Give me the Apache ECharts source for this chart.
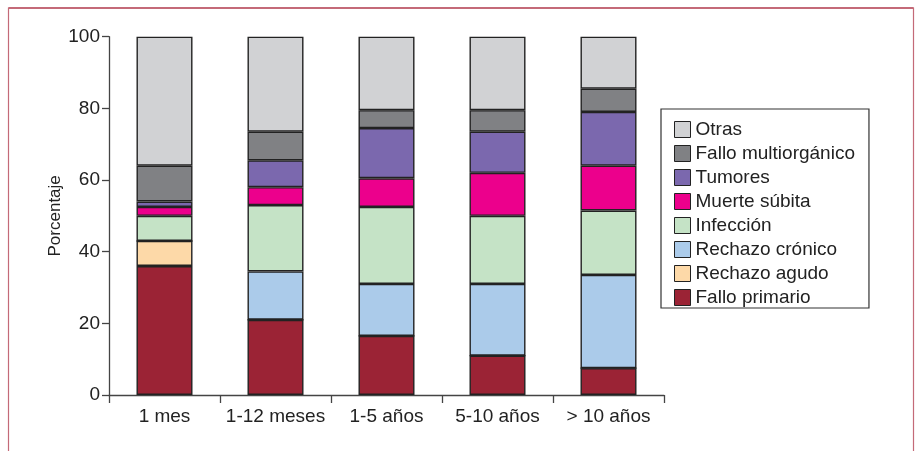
<!DOCTYPE html>
<html>
<head>
<meta charset="utf-8">
<script src="https://cdn.jsdelivr.net/npm/echarts@6/dist/echarts.min.js"></script>
<style>
  html, body { margin: 0; padding: 0; background: #ffffff; }
  #chart { width: 915px; height: 451px; }
</style>
</head>
<body>
<div id="chart"></div>
<script>
// Period after transplant
const categories = ['1 mes', '1-12 meses', '1-5 años', '5-10 años', '> 10 años'];

// Causes of death (% of deaths in each period), stacked bottom to top
const falloPrimario   = [36, 21, 16.5, 11, 7.5];
const rechazoAgudo    = [7, 0, 0, 0, 0];
const rechazoCronico  = [0, 13.5, 14.5, 20, 26];
const infeccion       = [7, 18.5, 21.5, 19, 18];
const muerteSubita    = [2.5, 5, 8, 12, 12.5];
const tumores         = [1.5, 7.5, 14, 11.5, 15];
const falloMulti      = [10, 8, 5, 6, 6.5];
const otras           = [36, 26.5, 20.5, 20.5, 14.5];

const yTicks = [0, 20, 40, 60, 80, 100];

const seriesDefs = [
  { name: 'Fallo primario',      data: falloPrimario,  color: '#9b2335' },
  { name: 'Rechazo agudo',       data: rechazoAgudo,   color: '#fdd9a8' },
  { name: 'Rechazo crónico',     data: rechazoCronico, color: '#abcbea' },
  { name: 'Infección',           data: infeccion,      color: '#c5e3c6' },
  { name: 'Muerte súbita',       data: muerteSubita,   color: '#ec008c' },
  { name: 'Tumores',             data: tumores,        color: '#7b68ae' },
  { name: 'Fallo multiorgánico', data: falloMulti,     color: '#808184' },
  { name: 'Otras',               data: otras,          color: '#d1d2d4' }
];

const labelFont = '"Liberation Sans", Arial, sans-serif';

const chart = echarts.init(document.getElementById('chart'), null, { renderer: 'canvas' });

chart.setOption({
  animation: false,
  backgroundColor: '#ffffff',
  graphic: [
    {
      type: 'rect',
      shape: { x: 8.5, y: 8, width: 905, height: 460 },
      style: { fill: 'none', stroke: '#c46a78', lineWidth: 1.2 },
      silent: true
    },
    {
      type: 'line',
      shape: { x1: 8.5, y1: 8, x2: 913.5, y2: 8 },
      style: { stroke: '#c46a78', lineWidth: 2 },
      silent: true
    }
  ],
  grid: { left: 109, right: 251, top: 36.7, bottom: 56, containLabel: false },
  legend: {
    orient: 'vertical',
    left: 661,
    top: 109,
    data: seriesDefs.map(s => s.name).reverse(),
    itemWidth: 16,
    itemHeight: 16,
    itemGap: 5,
    icon: 'rect',
    padding: [11, 14, 1, 13],
    borderColor: '#333333',
    borderWidth: 1.2,
    backgroundColor: '#ffffff',
    selectedMode: false,
    itemStyle: { borderColor: '#222222', borderWidth: 1 },
    textStyle: { fontFamily: labelFont, fontSize: 19, color: '#222222' }
  },
  xAxis: {
    type: 'category',
    data: categories,
    axisLine: { lineStyle: { color: '#444444', width: 1.3 } },
    axisTick: { show: true, length: 8, interval: 0, lineStyle: { color: '#444444', width: 1.3 } },
    axisLabel: { fontFamily: labelFont, fontSize: 19, color: '#222222', margin: 12, interval: 0 }
  },
  yAxis: {
    type: 'value',
    min: 0,
    max: 100,
    interval: 20,
    name: 'Porcentaje',
    nameLocation: 'middle',
    nameGap: 45,
    nameMoveOverlap: false,
    nameTextStyle: { fontFamily: labelFont, fontSize: 17, color: '#222222' },
    splitLine: { show: false },
    axisLine: { show: true, lineStyle: { color: '#444444', width: 1.3 } },
    axisTick: { show: true, length: 7, lineStyle: { color: '#444444', width: 1.3 } },
    axisLabel: {
      fontFamily: labelFont, fontSize: 19, color: '#222222', margin: 9,
      formatter: v => (yTicks.indexOf(v) >= 0 ? String(v) : '')
    }
  },
  series: seriesDefs.map(s => ({
    name: s.name,
    type: 'bar',
    stack: 'total',
    barWidth: 56,
    data: s.data,
    itemStyle: { color: s.color, borderColor: '#222222', borderWidth: 1.4 },
    emphasis: { disabled: true }
  }))
});
</script>
</body>
</html>
